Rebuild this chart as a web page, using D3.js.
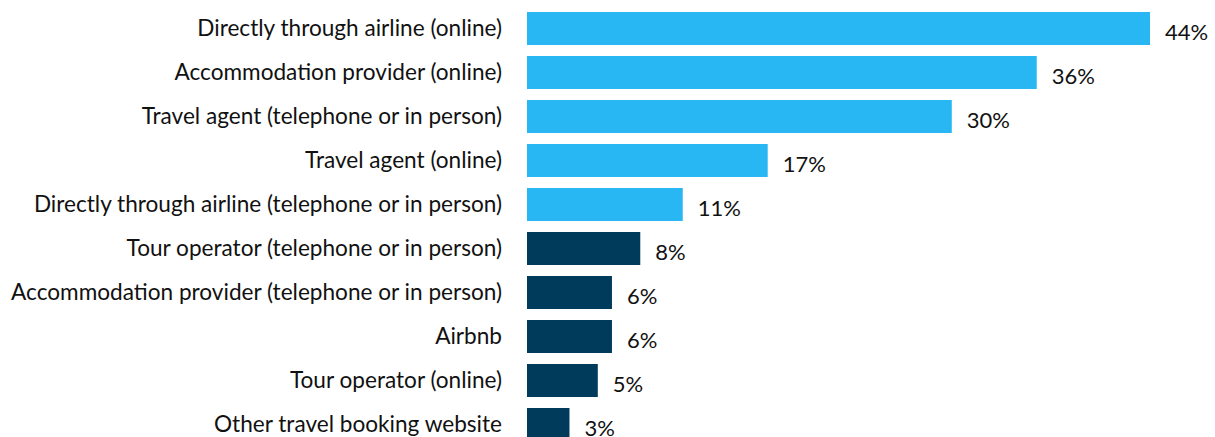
<!DOCTYPE html>
<html>
<head>
<meta charset="utf-8">
<script src="https://cdn.jsdelivr.net/npm/d3@7"></script>
<style>
  html, body { margin: 0; padding: 0; background: #fff; }
  svg { display: block; }
  text { font-family: "Lato", "Open Sans", sans-serif; fill: #111; }
</style>
</head>
<body>
<svg id="chart" width="1215" height="437"></svg>
<script>
// Booking channels and share of respondents (%)
const categories = [
  "Directly through airline (online)",
  "Accommodation provider (online)",
  "Travel agent (telephone or in person)",
  "Travel agent (online)",
  "Directly through airline (telephone or in person)",
  "Tour operator (telephone or in person)",
  "Accommodation provider (telephone or in person)",
  "Airbnb",
  "Tour operator (online)",
  "Other travel booking website"
];
const values = [44, 36, 30, 17, 11, 8, 6, 6, 5, 3];
const highlightCount = 5; // top channels drawn in light blue

const svg = d3.select("#chart");
const x0 = 527;

const x = d3.scaleLinear().domain([0, 44]).range([x0, 1150]);
const y = d3.scaleBand().domain(categories).range([6.5, 6.5 + 44 * 10]).paddingInner(0.25).paddingOuter(0.125);

const colorLight = "#29b7f3";
const colorDark = "#003b5c";

const rows = svg.selectAll("g.row").data(categories).enter().append("g").attr("class", "row");

rows.append("rect")
  .attr("x", x(0))
  .attr("y", d => y(d))
  .attr("width", (d, i) => x(values[i]) - x(0))
  .attr("height", y.bandwidth())
  .attr("fill", (d, i) => i < highlightCount ? colorLight : colorDark);

rows.append("text")
  .attr("x", 502)
  .attr("y", d => y(d) + y.bandwidth() / 2)
  .attr("dy", "0.35em")
  .attr("text-anchor", "end")
  .style("font-size", "22.6px")
  .text(d => d);

rows.append("text")
  .attr("x", (d, i) => x(values[i]) + 15)
  .attr("y", d => y(d) + y.bandwidth() / 2 + 4)
  .attr("dy", "0.35em")
  .style("font-size", "22px")
  .text((d, i) => values[i] + "%");
</script>
</body>
</html>
